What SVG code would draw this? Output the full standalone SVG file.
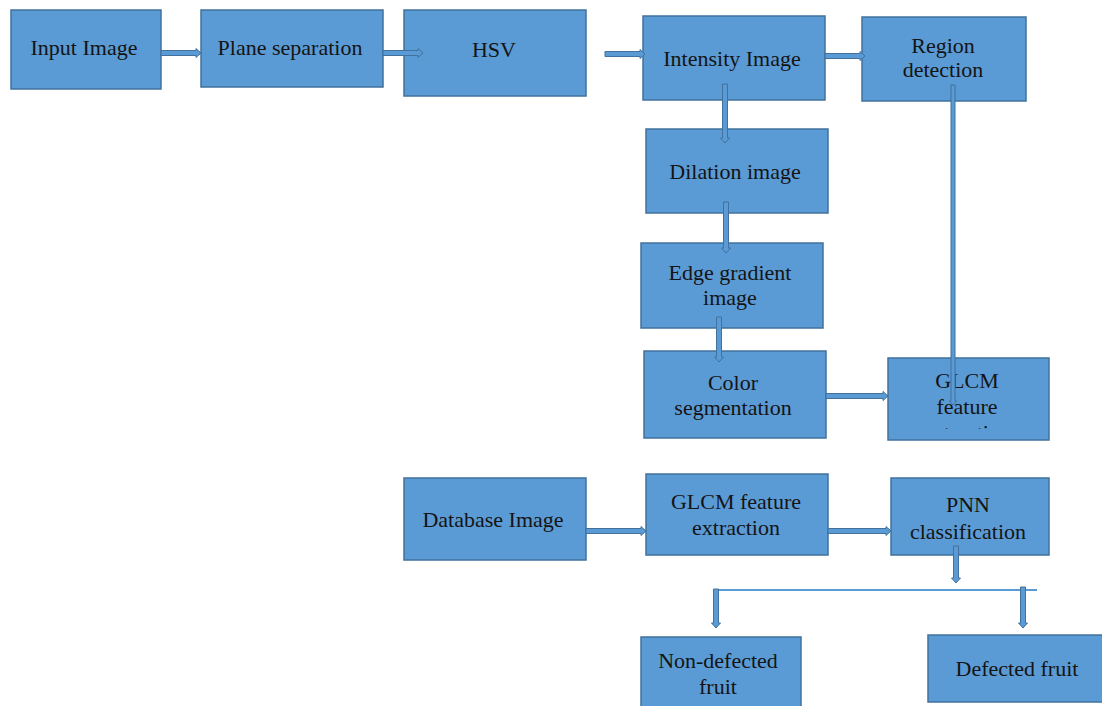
<svg xmlns="http://www.w3.org/2000/svg" width="1102" height="706" viewBox="0 0 1102 706">
<style>
.box{fill:#5B9BD5;stroke:#41719C;stroke-width:1.5}
.t{font-family:"Liberation Serif","Times New Roman",serif;font-size:22px;fill:#141414;text-anchor:middle}
.arr{fill:#5B9BD5;stroke:#41719C;stroke-width:1;stroke-linejoin:miter}
.ln{stroke:#5B9BD5;stroke-width:2;fill:none}
</style>
<defs>
<clipPath id="clipGlcm"><rect x="888" y="358" width="161" height="71"/></clipPath>
</defs>
<rect width="1102" height="706" fill="#ffffff"/>
<g id="n1"><rect class="box" x="11" y="10" width="150" height="79"/><text class="t" x="84" y="55">Input Image</text></g>
<g id="n2"><rect class="box" x="201" y="10" width="182" height="77"/><text class="t" x="290" y="55">Plane separation</text></g>
<g id="n3"><rect class="box" x="404" y="10" width="182" height="86"/><text class="t" x="494" y="57">HSV</text></g>
<g id="n4"><rect class="box" x="643" y="16" width="182" height="84"/><text class="t" x="732" y="66">Intensity Image</text></g>
<g id="n5"><rect class="box" x="862" y="17" width="164" height="84"/><text class="t" x="943" y="53">Region</text><text class="t" x="943" y="77">detection</text></g>
<g id="n6"><rect class="box" x="646" y="129" width="182" height="84"/><text class="t" x="735" y="179">Dilation image</text></g>
<g id="n7"><rect class="box" x="641" y="243" width="182" height="85"/><text class="t" x="730" y="280">Edge gradient</text><text class="t" x="730" y="305">image</text></g>
<g id="n8"><rect class="box" x="644" y="351" width="182" height="87"/><text class="t" x="733" y="390">Color</text><text class="t" x="733" y="415">segmentation</text></g>
<g id="n9"><rect class="box" x="888" y="358" width="161" height="82"/><text class="t" x="967" y="388">GLCM</text><text class="t" x="967" y="414">feature</text><text class="t" x="967" y="440" clip-path="url(#clipGlcm)">extraction</text></g>
<g id="n10"><rect class="box" x="404" y="478" width="182" height="82"/><text class="t" x="493" y="527">Database Image</text></g>
<g id="n11"><rect class="box" x="646" y="474" width="182" height="81"/><text class="t" x="736" y="509">GLCM feature</text><text class="t" x="736" y="535">extraction</text></g>
<g id="n12"><rect class="box" x="891" y="478" width="158" height="77"/><text class="t" x="968" y="512">PNN</text><text class="t" x="968" y="539">classification</text></g>
<g id="n13"><rect class="box" x="641" y="637" width="160" height="75"/><text class="t" x="718" y="668">Non-defected</text><text class="t" x="718" y="694">fruit</text></g>
<g id="n14"><rect class="box" x="928" y="635" width="180" height="67"/><text class="t" x="1017" y="676">Defected fruit</text></g>
<g id="connectors">
<polygon class="arr" points="161,50.5 196,50.5 196,48.5 201,53 196,57.5 196,55.5 161,55.5"/>
<polygon class="arr" points="383,50.5 418,50.5 418,48.5 423,53 418,57.5 418,55.5 383,55.5"/>
<polygon class="arr" points="605,51.5 640,51.5 640,49.5 645,54 640,58.5 640,56.5 605,56.5"/>
<polygon class="arr" points="825,53.5 860,53.5 860,51.5 865,56 860,60.5 860,58.5 825,58.5"/>
<polygon class="arr" points="722.5,84 727.5,84 727.5,138 729.5,138 725,143 720.5,138 722.5,138"/>
<polygon class="arr" points="723.5,202 728.5,202 728.5,248 730.5,248 726,253 721.5,248 723.5,248"/>
<polygon class="arr" points="716.5,317 721.5,317 721.5,357 723.5,357 719,362 714.5,357 716.5,357"/>
<polygon class="arr" points="826,393.5 883,393.5 883,391.5 888,396 883,400.5 883,398.5 826,398.5"/>
<polygon class="arr" points="951,85 955,85 955,401 956.5,401 953,405 949.5,401 951,401"/>
<polygon class="arr" points="586,528.5 641,528.5 641,526.5 646,531 641,535.5 641,533.5 586,533.5"/>
<polygon class="arr" points="828,528.5 886,528.5 886,526.5 891,531 886,535.5 886,533.5 828,533.5"/>
<polygon class="arr" points="953.5,546 958.5,546 958.5,578 960.5,578 956,583 951.5,578 953.5,578"/>
<line class="ln" x1="716" y1="590" x2="1037" y2="590"/>
<polygon class="arr" points="713.5,589 718.5,589 718.5,623 720.5,623 716,628 711.5,623 713.5,623"/>
<polygon class="arr" points="1020.5,587 1025.5,587 1025.5,623 1027.5,623 1023,628 1018.5,623 1020.5,623"/>
</g>
</svg>
